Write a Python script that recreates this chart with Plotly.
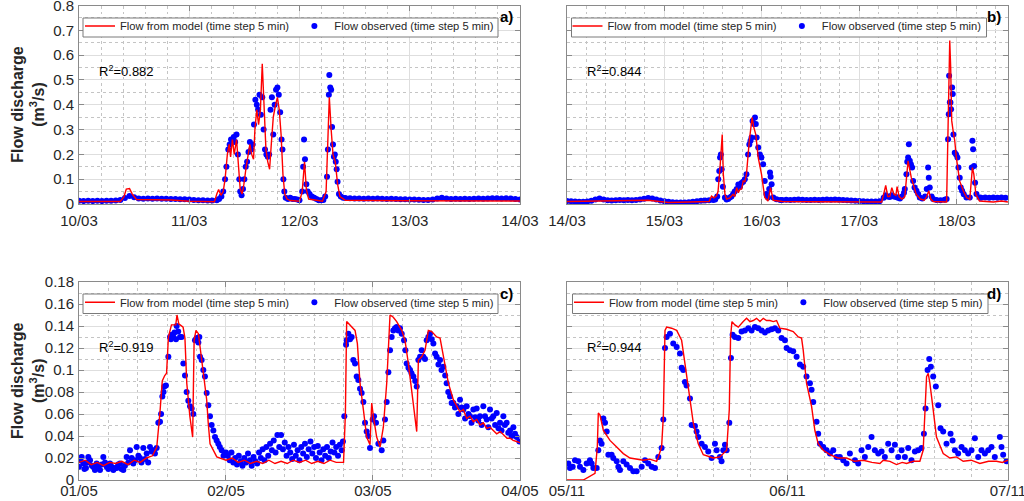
import plotly.graph_objects as go
import pandas as pd

# ---------------- DATA (hours from start of panel, flow m3/s) ----------------
a_obs_base_t = list(range(0, 31))
a_obs_base_q = [0.013, 0.012, 0.013, 0.012, 0.013, 0.012, 0.013, 0.013, 0.014, 0.016,
                0.024, 0.032, 0.027, 0.022, 0.021, 0.022, 0.021, 0.022, 0.021, 0.021,
                0.020, 0.020, 0.019, 0.019, 0.018, 0.016, 0.015, 0.015, 0.014, 0.014, 0.015]
a_obs_peak = [(30.5, 0.02), (31.0, 0.03), (31.4, 0.05), (31.8, 0.10), (32.1, 0.15), (32.5, 0.22),
              (32.8, 0.24), (33.1, 0.26), (33.4, 0.25), (33.7, 0.27), (34.0, 0.25), (34.3, 0.28),
              (34.6, 0.20), (34.9, 0.10), (35.1, 0.05), (35.4, 0.035), (35.7, 0.06), (36.0, 0.10),
              (36.3, 0.15), (36.6, 0.17), (36.9, 0.21), (37.2, 0.25), (37.5, 0.22), (37.8, 0.24),
              (38.1, 0.32), (38.4, 0.42), (38.7, 0.40), (39.0, 0.38), (39.3, 0.44), (39.6, 0.36),
              (39.9, 0.43), (40.2, 0.30), (40.5, 0.22), (40.8, 0.20), (41.1, 0.19), (41.4, 0.20),
              (41.7, 0.38), (42.0, 0.43), (42.3, 0.28), (42.6, 0.40), (42.9, 0.46), (43.2, 0.47),
              (43.5, 0.44), (43.8, 0.37), (44.1, 0.26), (44.3, 0.22), (44.5, 0.10), (44.7, 0.05),
              (45.0, 0.025), (45.5, 0.02), (46.0, 0.025), (46.5, 0.02), (47.0, 0.02), (47.5, 0.018),
              (48.0, 0.015), (48.6, 0.05), (48.8, 0.15), (49.0, 0.26), (49.2, 0.18), (49.5, 0.08),
              (49.8, 0.05), (50.2, 0.04), (50.7, 0.03), (51.2, 0.025), (51.7, 0.02), (52.2, 0.015),
              (52.7, 0.015), (53.2, 0.016), (53.6, 0.03), (54.0, 0.11), (54.2, 0.22), (54.4, 0.44),
              (54.5, 0.52), (54.7, 0.47), (54.9, 0.46), (55.1, 0.31), (55.3, 0.24), (55.5, 0.19),
              (55.7, 0.20), (55.9, 0.17), (56.1, 0.14), (56.3, 0.09), (56.6, 0.04), (57.0, 0.03),
              (57.5, 0.025)]
a_obs_tail_t = list(range(58, 97))
a_obs_tail_q = [0.024, 0.023, 0.022, 0.022, 0.021, 0.022, 0.021, 0.022, 0.021, 0.020,
                0.021, 0.020, 0.019, 0.019, 0.018, 0.018, 0.017, 0.016, 0.016, 0.018,
                0.022, 0.025, 0.022, 0.020, 0.021, 0.020, 0.021, 0.020, 0.021, 0.022,
                0.021, 0.022, 0.023, 0.023, 0.022, 0.023, 0.022, 0.020, 0.018]
a_model = [(0, 0.010), (9, 0.010), (9.8, 0.03), (10.3, 0.06), (11.0, 0.062), (11.6, 0.04),
           (12.5, 0.018), (16, 0.017), (20, 0.016), (24, 0.011), (29.5, 0.009), (30.0, 0.04),
           (30.4, 0.058), (30.9, 0.035), (31.4, 0.05), (31.8, 0.10), (32.3, 0.20), (32.7, 0.24),
           (33.0, 0.19), (33.4, 0.26), (33.8, 0.20), (34.3, 0.26), (34.7, 0.15), (35.1, 0.06),
           (35.5, 0.04), (35.9, 0.08), (36.4, 0.15), (36.8, 0.20), (37.2, 0.24), (37.6, 0.20),
           (38.0, 0.18), (38.3, 0.30), (38.7, 0.38), (39.1, 0.32), (39.5, 0.38), (39.9, 0.565),
           (40.3, 0.35), (40.7, 0.22), (41.1, 0.17), (41.5, 0.14), (41.9, 0.25), (42.3, 0.35),
           (42.8, 0.40), (43.2, 0.43), (43.6, 0.38), (44.0, 0.28), (44.4, 0.12), (44.8, 0.04),
           (45.3, 0.02), (46.0, 0.014), (48.0, 0.011), (48.6, 0.05), (49.1, 0.17), (49.5, 0.06),
           (50.0, 0.02), (53.0, 0.011), (53.8, 0.05), (54.2, 0.30), (54.5, 0.43), (54.9, 0.30),
           (55.3, 0.20), (55.8, 0.17), (56.3, 0.08), (56.8, 0.03), (58.0, 0.015), (70, 0.013),
           (80, 0.012), (96, 0.012)]

b_obs_base1_t = list(range(0, 37))
b_obs_base1_q = [0.012, 0.011, 0.010, 0.009, 0.009, 0.010, 0.013, 0.018, 0.022, 0.018,
                 0.015, 0.014, 0.015, 0.016, 0.015, 0.016, 0.015, 0.016, 0.018, 0.021,
                 0.024, 0.022, 0.018, 0.014, 0.011, 0.009, 0.007, 0.006, 0.006, 0.006,
                 0.007, 0.009, 0.011, 0.013, 0.014, 0.015, 0.016]
b_obs_peak1 = [(36.5, 0.018), (37.0, 0.03), (37.25, 0.10), (37.5, 0.133), (37.7, 0.187), (37.9, 0.20),
               (38.1, 0.14), (38.4, 0.07), (38.9, 0.026), (39.3, 0.018), (39.7, 0.02), (40.1, 0.026),
               (40.5, 0.03), (40.9, 0.039), (41.3, 0.05), (41.8, 0.06), (42.2, 0.079), (42.6, 0.07),
               (43.0, 0.085), (43.4, 0.09), (43.8, 0.10), (44.2, 0.12), (44.6, 0.20), (44.9, 0.24),
               (45.2, 0.255), (45.45, 0.268), (45.7, 0.335), (46.0, 0.322), (46.3, 0.349), (46.5, 0.322),
               (46.7, 0.268), (47.1, 0.228), (47.5, 0.20), (47.9, 0.187), (48.3, 0.16), (48.7, 0.093),
               (49.1, 0.04), (49.5, 0.026), (49.8, 0.06), (50.0, 0.127), (50.15, 0.11), (50.4, 0.08),
               (50.8, 0.026), (51.6, 0.019), (52.5, 0.016)]
b_obs_base2_t = list(range(53, 78))
b_obs_base2_q = [0.016, 0.017, 0.016, 0.017, 0.018, 0.017, 0.016, 0.016, 0.017, 0.016,
                 0.017, 0.018, 0.017, 0.018, 0.017, 0.016, 0.015, 0.014, 0.013, 0.012,
                 0.011, 0.010, 0.010, 0.010, 0.011]
b_obs_peak2 = [(78.0, 0.025), (78.5, 0.035), (79.0, 0.03), (79.5, 0.028), (80.0, 0.035), (80.5, 0.03),
               (81.0, 0.028), (81.5, 0.025), (82.0, 0.022), (82.5, 0.03), (83.0, 0.045), (83.2, 0.06),
               (83.6, 0.12), (83.8, 0.17), (84.02, 0.187), (84.2, 0.241), (84.43, 0.174), (84.7, 0.16),
               (85.0, 0.147), (85.25, 0.093), (85.6, 0.066), (86.07, 0.053), (86.5, 0.04), (86.89, 0.026),
               (87.5, 0.022), (88.2, 0.03), (88.6, 0.06), (88.94, 0.147), (89.1, 0.106), (89.35, 0.066),
               (89.8, 0.03), (90.17, 0.02), (91.0, 0.016), (92.0, 0.015), (93.0, 0.017), (93.5, 0.02),
               (93.86, 0.261), (94.03, 0.362), (94.11, 0.517), (94.3, 0.41), (94.44, 0.409), (94.6, 0.382),
               (94.85, 0.47), (95.01, 0.443), (95.17, 0.28), (95.5, 0.207), (95.83, 0.20), (96.16, 0.187),
               (96.41, 0.147), (96.73, 0.106), (96.98, 0.066), (97.31, 0.053), (97.72, 0.039), (98.38, 0.026),
               (99.2, 0.026), (99.69, 0.147), (99.85, 0.255), (100.02, 0.221), (100.26, 0.153), (100.51, 0.086),
               (100.84, 0.04), (101.66, 0.026)]
b_obs_tail_t = list(range(102, 109))
b_obs_tail_q = [0.025, 0.026, 0.025, 0.026, 0.025, 0.026, 0.025]
b_model = [(0, 0.010), (10, 0.012), (20, 0.015), (25, 0.006), (33, 0.008), (35.0, 0.010),
           (35.6, 0.032), (36.2, 0.025), (36.8, 0.032), (37.2, 0.05), (37.7, 0.15), (38.23, 0.28),
           (38.5, 0.12), (38.9, 0.04), (39.3, 0.02), (40.1, 0.025), (40.9, 0.039), (41.3, 0.03),
           (41.8, 0.066), (42.2, 0.045), (42.6, 0.06), (43.0, 0.06), (43.4, 0.093), (43.8, 0.09),
           (44.2, 0.12), (44.9, 0.255), (45.6, 0.349), (46.0, 0.31), (46.5, 0.28), (47.1, 0.187),
           (47.9, 0.12), (48.7, 0.026), (49.5, 0.012), (50.13, 0.066), (50.8, 0.015), (53, 0.010),
           (60, 0.009), (70, 0.010), (77.5, 0.008), (78.0, 0.04), (78.5, 0.075), (79.0, 0.03),
           (79.5, 0.03), (80.0, 0.066), (80.5, 0.04), (81.0, 0.035), (81.3, 0.07), (81.8, 0.03),
           (82.5, 0.02), (83.2, 0.03), (84.0, 0.174), (84.8, 0.106), (86.0, 0.04), (87.0, 0.02),
           (88.0, 0.015), (88.6, 0.03), (89.1, 0.053), (89.6, 0.02), (90.2, 0.010), (93.5, 0.008),
           (93.9, 0.416), (94.27, 0.659), (94.5, 0.55), (94.76, 0.335), (95.1, 0.295), (95.5, 0.255),
           (95.9, 0.187), (96.7, 0.093), (97.6, 0.053), (98.4, 0.026), (99.2, 0.019), (99.85, 0.147),
           (100.2, 0.12), (100.7, 0.039), (101.6, 0.012), (105, 0.008), (107, 0.012), (108.6, 0.008)]

c_obs = [(0, 0.012), (0.22, 0.018), (0.44, 0.021), (0.71, 0.015), (0.9, 0.010), (1.14, 0.011),
         (1.35, 0.016), (1.52, 0.021), (1.8, 0.018), (2.1, 0.013), (2.34, 0.012), (2.6, 0.009),
         (2.88, 0.015), (3.15, 0.011), (3.43, 0.009), (3.7, 0.014), (3.97, 0.021), (4.25, 0.016),
         (4.52, 0.012), (4.8, 0.010), (5.06, 0.015), (5.33, 0.012), (5.61, 0.009), (5.9, 0.011),
         (6.15, 0.011), (6.4, 0.014), (6.69, 0.015), (6.95, 0.010), (7.24, 0.009), (7.5, 0.013),
         (7.78, 0.021), (8.05, 0.016), (8.33, 0.027), (8.6, 0.020), (8.87, 0.015), (9.15, 0.018),
         (9.42, 0.030), (9.7, 0.022), (9.96, 0.020), (10.2, 0.016), (10.5, 0.029), (10.8, 0.019),
         (11.05, 0.024), (11.3, 0.016), (11.59, 0.030), (11.85, 0.026), (12.14, 0.027), (12.4, 0.024),
         (12.68, 0.029),
         (12.95, 0.052), (13.23, 0.053), (13.4, 0.060), (13.61, 0.076), (13.8, 0.080), (13.93, 0.085),
         (14.2, 0.086), (14.59, 0.112), (14.86, 0.130), (15.0, 0.128), (15.13, 0.132), (15.4, 0.130),
         (15.6, 0.134), (15.84, 0.128), (15.95, 0.140), (16.2, 0.135), (16.5, 0.130), (16.76, 0.130),
         (17.04, 0.106), (17.31, 0.095), (17.58, 0.080), (17.85, 0.072), (18.13, 0.067), (18.4, 0.065),
         (18.67, 0.060), (18.94, 0.127), (19.21, 0.129), (19.49, 0.125), (19.65, 0.130), (19.76, 0.112),
         (20.03, 0.109), (20.3, 0.100), (20.57, 0.094), (20.85, 0.079), (21.12, 0.068), (21.39, 0.058),
         (21.66, 0.050), (21.94, 0.045), (22.21, 0.039), (22.48, 0.036), (22.75, 0.033), (23.0, 0.030),
         (23.3, 0.027), (23.6, 0.022), (24.0, 0.025),
         (24.3, 0.022), (24.6, 0.018), (24.9, 0.025), (25.2, 0.016), (25.5, 0.020), (25.8, 0.014),
         (26.1, 0.022), (26.4, 0.017), (26.7, 0.013), (27.0, 0.020), (27.3, 0.016), (27.6, 0.024),
         (27.9, 0.018), (28.2, 0.013), (28.5, 0.021), (28.8, 0.017), (29.1, 0.015), (29.4, 0.025),
         (29.7, 0.020), (30.0, 0.028), (30.3, 0.018), (30.6, 0.030), (30.9, 0.022), (31.2, 0.033),
         (31.5, 0.027), (31.8, 0.036), (32.1, 0.025), (32.4, 0.041), (32.7, 0.030), (33.0, 0.041),
         (33.3, 0.028), (33.6, 0.034), (33.9, 0.022), (34.2, 0.030), (34.5, 0.025), (34.8, 0.019),
         (35.1, 0.032), (35.4, 0.022), (35.7, 0.027), (36.0, 0.018), (36.3, 0.030), (36.6, 0.024),
         (36.9, 0.033), (37.2, 0.021), (37.5, 0.028), (37.8, 0.035), (38.1, 0.024), (38.4, 0.030),
         (38.7, 0.020), (39.0, 0.031), (39.3, 0.025), (39.6, 0.018), (39.9, 0.028), (40.2, 0.022),
         (40.5, 0.030), (40.8, 0.020), (41.1, 0.026), (41.4, 0.034), (41.7, 0.025), (42.0, 0.030),
         (42.3, 0.022), (42.6, 0.032), (42.9, 0.027), (43.1, 0.035),
         (43.33, 0.058), (43.61, 0.123), (43.71, 0.127), (43.99, 0.133), (44.26, 0.128), (44.53, 0.130),
         (44.8, 0.109), (45.08, 0.106), (45.35, 0.094), (45.62, 0.091), (45.89, 0.083), (46.16, 0.079),
         (46.44, 0.071), (46.71, 0.052), (46.98, 0.044), (47.25, 0.040), (47.52, 0.029), (47.96, 0.055),
         (48.18, 0.058), (48.5, 0.052), (48.89, 0.033), (49.43, 0.027), (49.7, 0.036), (49.97, 0.055),
         (50.25, 0.071), (50.52, 0.098), (50.79, 0.118), (51.06, 0.130), (51.33, 0.136), (51.6, 0.138),
         (51.88, 0.139), (52.15, 0.136), (52.42, 0.138), (52.7, 0.133), (53.08, 0.127), (53.3, 0.118),
         (53.51, 0.106), (53.8, 0.102), (54.06, 0.100), (54.3, 0.097), (54.6, 0.094), (54.9, 0.090),
         (55.15, 0.085), (55.42, 0.109), (55.7, 0.112), (55.96, 0.118), (56.23, 0.112), (56.5, 0.110),
         (56.78, 0.127), (57.05, 0.130), (57.32, 0.133), (57.6, 0.128), (57.87, 0.124), (58.15, 0.115),
         (58.41, 0.112), (58.7, 0.105), (58.96, 0.109), (59.2, 0.100), (59.5, 0.103), (59.8, 0.095),
         (60.04, 0.088), (60.3, 0.080), (60.59, 0.076), (60.85, 0.070), (61.13, 0.070), (61.4, 0.066),
         (61.68, 0.067), (61.95, 0.060), (62.22, 0.073), (62.5, 0.066), (62.77, 0.064), (63.05, 0.056),
         (63.31, 0.067), (63.6, 0.060), (63.85, 0.058), (64.1, 0.052), (64.4, 0.064), (64.7, 0.057),
         (64.94, 0.065), (65.2, 0.054), (65.49, 0.058), (65.75, 0.050), (66.03, 0.067), (66.3, 0.058),
         (66.58, 0.055), (66.85, 0.048), (67.12, 0.064), (67.4, 0.056), (67.66, 0.058), (67.95, 0.050),
         (68.21, 0.061), (68.5, 0.047), (68.75, 0.052), (69.0, 0.045), (69.3, 0.058), (69.55, 0.050),
         (69.84, 0.052), (70.1, 0.043), (70.39, 0.045), (70.65, 0.040), (70.93, 0.048), (71.2, 0.042),
         (71.47, 0.039), (71.91, 0.035)]
c_model = [(0, 0.016), (1, 0.018), (2, 0.014), (3, 0.016), (4, 0.013), (5, 0.016), (6, 0.015),
           (7, 0.017), (8, 0.014), (9, 0.018), (10, 0.016), (11, 0.020), (12, 0.022), (12.7, 0.030),
           (13.2, 0.060), (13.6, 0.090), (14.0, 0.095), (14.3, 0.097), (14.6, 0.130), (15.1, 0.141),
           (15.8, 0.141), (16.0, 0.150), (16.3, 0.142), (17.0, 0.139), (17.3, 0.129), (17.6, 0.088),
           (18.1, 0.058), (18.56, 0.039), (18.8, 0.127), (19.1, 0.136), (19.5, 0.133), (19.8, 0.120),
           (20.3, 0.094), (20.85, 0.073), (21.1, 0.052), (21.4, 0.033), (22.5, 0.021), (24, 0.018),
           (25, 0.020), (26, 0.016), (27, 0.018), (28, 0.015), (29, 0.017), (30, 0.015), (31, 0.018),
           (32, 0.015), (33, 0.017), (34, 0.015), (35, 0.018), (36, 0.016), (37, 0.018), (38, 0.015),
           (39, 0.017), (40, 0.015), (41, 0.018), (42, 0.016), (43.2, 0.016), (43.5, 0.060),
           (43.71, 0.144), (44.26, 0.141), (45.08, 0.136), (45.46, 0.124), (45.89, 0.088), (46.44, 0.064),
           (46.98, 0.039), (47.52, 0.032), (47.8, 0.070), (48.07, 0.058), (48.61, 0.039), (49.16, 0.030),
           (49.7, 0.048), (50.25, 0.088), (50.79, 0.150), (51.33, 0.148), (51.88, 0.144), (52.7, 0.136),
           (53.24, 0.127), (53.78, 0.106), (54.33, 0.079), (54.87, 0.052), (55.15, 0.044), (55.42, 0.109),
           (55.96, 0.112), (56.51, 0.118), (57.05, 0.136), (57.6, 0.135), (58.41, 0.130), (58.96, 0.129),
           (59.5, 0.112), (60.32, 0.088), (61.13, 0.073), (61.68, 0.067), (62.2, 0.062), (62.77, 0.064),
           (63.3, 0.056), (63.85, 0.058), (64.4, 0.053), (64.94, 0.055), (65.5, 0.050), (66.03, 0.052),
           (66.6, 0.047), (67.12, 0.048), (67.7, 0.045), (68.21, 0.042), (68.8, 0.044), (69.3, 0.041),
           (69.9, 0.038), (70.39, 0.038), (70.9, 0.036), (71.47, 0.035), (72.0, 0.034)]

d_obs = [(0.15, 0.015), (0.33, 0.011), (0.62, 0.012), (0.87, 0.018), (1.23, 0.017), (1.41, 0.012),
         (1.78, 0.009), (2.14, 0.015), (2.50, 0.018), (2.68, 0.015), (2.87, 0.011), (3.23, 0.011),
         (3.41, 0.027), (3.59, 0.036), (3.77, 0.033), (3.96, 0.056), (4.14, 0.052), (4.32, 0.044),
         (4.50, 0.023), (4.86, 0.023), (5.04, 0.020), (5.41, 0.017), (5.59, 0.012), (5.77, 0.009),
         (6.13, 0.017), (6.49, 0.014), (6.86, 0.011), (7.22, 0.008), (7.58, 0.008), (8.13, 0.012),
         (8.49, 0.018), (8.85, 0.015), (9.22, 0.012), (9.58, 0.011), (9.94, 0.021), (10.30, 0.029),
         (10.49, 0.055), (10.67, 0.120), (10.85, 0.130), (11.21, 0.133), (11.57, 0.124), (11.94, 0.121),
         (12.30, 0.115), (12.48, 0.102), (12.66, 0.100), (12.84, 0.089), (13.02, 0.086), (13.39, 0.074),
         (13.57, 0.050), (13.93, 0.049), (14.11, 0.044), (14.29, 0.039), (14.66, 0.033), (15.02, 0.030),
         (15.38, 0.026), (15.75, 0.020), (16.11, 0.033), (16.29, 0.027), (16.65, 0.021), (16.83, 0.017),
         (17.02, 0.027), (17.20, 0.032), (17.38, 0.027), (17.67, 0.052), (17.85, 0.111), (18.03, 0.132),
         (18.28, 0.130), (18.65, 0.129), (19.01, 0.135), (19.37, 0.136), (19.74, 0.138), (20.10, 0.136),
         (20.46, 0.139), (20.82, 0.138), (21.19, 0.136), (21.55, 0.134), (21.91, 0.136), (22.28, 0.137),
         (22.64, 0.138), (23.00, 0.136), (23.36, 0.129), (23.73, 0.127), (23.91, 0.120), (24.27, 0.118),
         (24.63, 0.117), (25.00, 0.112), (25.36, 0.105), (25.72, 0.103), (26.08, 0.094), (26.45, 0.088),
         (26.63, 0.082), (26.81, 0.071), (27.17, 0.053), (27.35, 0.042), (27.54, 0.033), (27.90, 0.030),
         (28.26, 0.027), (28.63, 0.024), (28.99, 0.027), (29.35, 0.021), (29.71, 0.021), (30.08, 0.018),
         (30.44, 0.015), (30.80, 0.024), (31.35, 0.018), (31.71, 0.015), (32.07, 0.027), (32.43, 0.021),
         (32.80, 0.030), (33.16, 0.039), (33.52, 0.027), (33.89, 0.024), (34.25, 0.026), (34.61, 0.021),
         (34.97, 0.033), (35.34, 0.027), (35.70, 0.032), (36.06, 0.021), (36.43, 0.027), (36.79, 0.021),
         (37.15, 0.029), (37.51, 0.018), (37.88, 0.026), (38.24, 0.027), (38.60, 0.029), (38.86, 0.042),
         (39.04, 0.065), (39.26, 0.100), (39.44, 0.110), (39.62, 0.103), (39.87, 0.094), (40.16, 0.085),
         (40.42, 0.068), (40.67, 0.047), (40.96, 0.044), (41.32, 0.033), (41.76, 0.042), (41.98, 0.036),
         (42.23, 0.027), (42.59, 0.024), (42.96, 0.030), (43.32, 0.027), (43.68, 0.024), (44.04, 0.027),
         (44.41, 0.038), (44.77, 0.021), (45.13, 0.027), (45.50, 0.024), (45.86, 0.027), (46.22, 0.030),
         (46.58, 0.021), (47.13, 0.039), (47.31, 0.030), (47.49, 0.023), (47.85, 0.017)]
d_model = [(0, 0.0), (1.78, 0.0), (3.05, 0.006), (3.3, 0.03), (3.41, 0.061), (3.59, 0.059),
           (3.96, 0.045), (4.68, 0.036), (5.41, 0.030), (6.13, 0.024), (6.86, 0.020), (7.6, 0.019),
           (8.31, 0.018), (9.0, 0.019), (9.76, 0.017), (9.94, 0.021), (10.30, 0.030), (10.49, 0.058),
           (10.67, 0.136), (10.85, 0.139), (11.39, 0.138), (11.94, 0.136), (12.48, 0.127), (12.84, 0.106),
           (13.21, 0.082), (13.75, 0.052), (14.29, 0.033), (14.84, 0.023), (15.93, 0.020), (16.65, 0.021),
           (17.38, 0.027), (17.67, 0.064), (17.81, 0.130), (17.96, 0.144), (18.28, 0.141), (18.65, 0.139),
           (19.19, 0.144), (19.55, 0.147), (19.92, 0.144), (20.28, 0.145), (20.64, 0.147), (21.01, 0.144),
           (21.37, 0.147), (21.73, 0.145), (22.09, 0.145), (22.46, 0.144), (22.82, 0.145), (23.18, 0.138),
           (23.91, 0.137), (24.63, 0.135), (25.18, 0.130), (25.54, 0.129), (25.72, 0.118), (26.08, 0.088),
           (26.63, 0.067), (26.99, 0.045), (27.35, 0.033), (27.90, 0.027), (28.63, 0.023), (29.5, 0.020),
           (30.44, 0.020), (31.3, 0.017), (32.25, 0.018), (33.2, 0.016), (34.07, 0.015), (34.43, 0.018),
           (35.16, 0.017), (35.88, 0.014), (36.5, 0.016), (36.97, 0.015), (37.7, 0.017), (38.42, 0.017),
           (38.78, 0.027), (39.15, 0.094), (39.33, 0.097), (39.51, 0.088), (39.87, 0.064), (40.23, 0.039),
           (40.96, 0.024), (41.69, 0.020), (42.41, 0.021), (43.14, 0.017), (44.0, 0.018), (44.95, 0.015),
           (45.9, 0.017), (46.76, 0.017), (47.4, 0.016), (48.0, 0.018)]

panel_labels = ["a)", "b)", "c)", "d)"]
r2_texts = ["0.882", "0.844", "0.919", "0.944"]
panel_starts = ["2016-03-10", "2016-03-14", "2016-05-01", "2016-11-05"]
panel_span_hours = [96, 108.6, 72, 48]
y_max = [0.8, 0.8, 0.18, 0.18]
y_step = [0.1, 0.1, 0.02, 0.02]
legend_model = "Flow from model (time step 5 min)"
legend_obs = "Flow observed (time step 5 min)"
y_title = "<b>Flow discharge<br>(m<sup>3</sup>/s)</b>"

# ---------------- BUILD ----------------
W, H = 1024, 501
def px(x):
    return x / W
def py(y):
    return 1 - y / H

def to_series(start, hours, values):
    base = pd.Timestamp(start)
    return [base + pd.Timedelta(hours=float(h)) for h in hours], list(values)

def split(pts):
    return [p[0] for p in pts], [p[1] for p in pts]

a_ot = a_obs_base_t + split(a_obs_peak)[0] + a_obs_tail_t
a_oq = a_obs_base_q + split(a_obs_peak)[1] + a_obs_tail_q
b_ot = b_obs_base1_t + split(b_obs_peak1)[0] + b_obs_base2_t + split(b_obs_peak2)[0] + b_obs_tail_t
b_oq = b_obs_base1_q + split(b_obs_peak1)[1] + b_obs_base2_q + split(b_obs_peak2)[1] + b_obs_tail_q

obs_sets = [(a_ot, a_oq), (b_ot, b_oq), split(c_obs), split(d_obs)]
model_sets = [split(a_model), split(b_model), split(c_model), split(d_model)]

# plot-area pixel boxes (left, right, top, bottom)
boxes = [(79, 520, 5.5, 204), (567, 1008, 5.5, 204), (79, 520, 282, 480), (567, 1008, 282, 480)]
legend_boxes = [(83, 498, 18, 37), (571.5, 986.5, 18, 37), (83, 498, 294, 313.5), (572.5, 988, 294, 313.5)]
legend_x = [80, 567.5, 80, 569]
xlabel_standoff = [3, 3, -3, -3]

fig = go.Figure()
font_main = "Liberation Sans, Arial, sans-serif"
axis_col = "#8a8a8a"
grid_col = "#dedede"
minor_col = "#c4c4c4"

for i in range(4):
    sfx = "" if i == 0 else str(i + 1)
    lg = "legend" if i == 0 else "legend" + str(i + 1)
    ot, oq = to_series(panel_starts[i], *obs_sets[i])
    mt, mq = to_series(panel_starts[i], *model_sets[i])
    fig.add_trace(go.Scatter(x=ot, y=oq, mode="markers", name=legend_obs,
                             marker=dict(color="#0000ff", size=6, line=dict(width=0)),
                             xaxis="x" + sfx, yaxis="y" + sfx, legend=lg, legendrank=2))
    fig.add_trace(go.Scatter(x=mt, y=mq, mode="lines", name=legend_model,
                             line=dict(color="#ff0000", width=1.4),
                             xaxis="x" + sfx, yaxis="y" + sfx, legend=lg, legendrank=1))
    l, r, t, b = boxes[i]
    start = pd.Timestamp(panel_starts[i])
    end = start + pd.Timedelta(hours=panel_span_hours[i], minutes=1)
    minor_h = 4 if i == 3 else 4.8
    lx0, lx1, ly0, ly1 = legend_boxes[i]
    fig.update_layout(**{
        "xaxis" + sfx: dict(domain=[px(l), px(r)], anchor="y" + sfx, type="date",
                            range=[start, end], tickformat="%d/%m", dtick=86400000,
                            tick0=start, ticks="inside", ticklen=5, tickcolor=axis_col,
                            showline=True, linecolor=axis_col, linewidth=1, mirror="ticks",
                            showgrid=True, gridcolor=grid_col, gridwidth=1, automargin=False,
                            minor=dict(dtick=minor_h * 3600000, tick0=start, showgrid=True,
                                       gridcolor=minor_col, griddash="dot", gridwidth=1),
                            tickfont=dict(family=font_main, size=15, color="#262626"),
                            ticklabelstandoff=xlabel_standoff[i], zeroline=False,
                            ticklabeloverflow="allow"),
        "yaxis" + sfx: dict(domain=[py(b), py(t)], anchor="x" + sfx, range=[0, y_max[i] * 1.000001],
                            dtick=y_step[i], tick0=0, ticks="inside", ticklen=5,
                            tickcolor=axis_col, showline=True, linecolor=axis_col,
                            linewidth=1, mirror="ticks", showgrid=True, gridcolor=grid_col,
                            minor=dict(dtick=y_step[i] / 2, showgrid=True, gridcolor=minor_col,
                                       griddash="dot", gridwidth=1), automargin=False,
                            showticklabels=(i % 2 == 0), zeroline=False,
                            tickfont=dict(family=font_main, size=15, color="#262626"),
                            ticklabelstandoff=1, ticklabeloverflow="allow"),
        lg: dict(x=px(legend_x[i]), y=py((ly0 + ly1) / 2 - 16), xanchor="left", yanchor="top",
                 orientation="h", bgcolor="rgba(0,0,0,0)", borderwidth=0,
                 font=dict(family=font_main, size=11.2, color="#262626"),
                 tracegroupgap=0, itemwidth=30, traceorder="normal"),
    })
    # legend frame (white, opaque like the original)
    fig.add_shape(type="rect", xref="paper", yref="paper", layer="above",
                  x0=px(lx0), x1=px(lx1), y0=py(ly1), y1=py(ly0),
                  fillcolor="white", line=dict(color="#7a7a7a", width=1))
    fig.add_annotation(x=px(r - 5), y=py(t + 11), xref="paper", yref="paper",
                       text="<b>" + panel_labels[i] + "</b>", showarrow=False,
                       xanchor="right", yanchor="middle",
                       font=dict(family=font_main, size=15, color="#000000"))
    fig.add_annotation(x=px(l + 18), y=py(t + 65), xref="paper", yref="paper",
                       text="R<sup>2</sup>=" + r2_texts[i], showarrow=False,
                       xanchor="left", yanchor="middle",
                       font=dict(family=font_main, size=13, color="#000000"))
    if i % 2 == 0:
        fig.add_annotation(x=px(28), y=py((t + b) / 2), xref="paper", yref="paper",
                           text=y_title, showarrow=False, textangle=-90,
                           xanchor="center", yanchor="middle",
                           font=dict(family=font_main, size=16, color="#262626"))

fig.update_layout(width=W, height=H, margin=dict(l=0, r=0, t=0, b=0),
                  paper_bgcolor="white", plot_bgcolor="white", showlegend=True)
fig.write_html("out.html", config={"displayModeBar": False},
               post_script="document.body.style.margin='0px';")
